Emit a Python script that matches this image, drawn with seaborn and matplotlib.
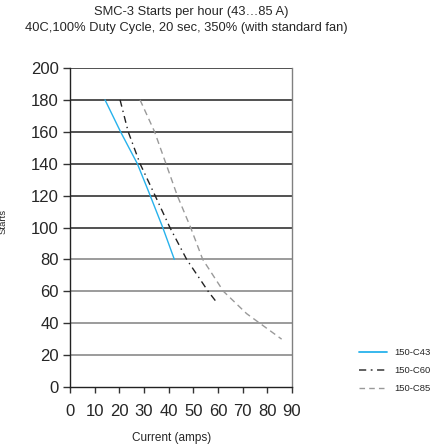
import matplotlib
matplotlib.use("Agg")
import matplotlib.pyplot as plt
import seaborn as sns
import pandas as pd
from matplotlib.lines import Line2D

# ---- data ----
c43_current = [14.2, 20.5, 27.3, 32.0, 37.6, 42.3]
c43_starts = [180, 160, 140, 122, 100, 80]

c60_current = [20.3, 23.6, 28.4, 34.5, 40.5, 47.3, 56.0, 59.5]
c60_starts = [180, 160, 140, 120, 100, 80, 60, 53]

c85_current = [28.4, 34.3, 38.9, 43.5, 48.9, 53.8, 62.2, 71.6, 85.8]
c85_starts = [180, 160, 140, 120, 100, 80, 60, 46, 30]

series_names = ["150-C43", "150-C60", "150-C85"]
x_ticks = [0, 10, 20, 30, 40, 50, 60, 70, 80, 90]
y_ticks = [0, 20, 40, 60, 80, 100, 120, 140, 160, 180, 200]

title_line1 = "SMC-3 Starts per hour (43\u202685 A)"
title_line2 = "40C,100% Duty Cycle, 20 sec, 350% (with standard fan)"

df = pd.concat([
    pd.DataFrame({"Current": c43_current, "Starts": c43_starts, "Model": series_names[0]}),
    pd.DataFrame({"Current": c60_current, "Starts": c60_starts, "Model": series_names[1]}),
    pd.DataFrame({"Current": c85_current, "Starts": c85_starts, "Model": series_names[2]}),
], ignore_index=True)

sns.set_theme(style="white")
plt.rcParams["font.family"] = ["Liberation Sans", "DejaVu Sans"]

fig = plt.figure(figsize=(4.41, 4.45), dpi=100)
ax = fig.add_axes([70 / 441, 1 - 387 / 445, 222 / 441, 319 / 445])

palette = {series_names[0]: "#27b2ec", series_names[1]: "#222222", series_names[2]: "#9a9a9a"}
dashes = {series_names[0]: "", series_names[1]: (5, 3, 1, 3), series_names[2]: (4.5, 3)}

sns.lineplot(data=df, x="Current", y="Starts", hue="Model", style="Model",
             palette=palette, dashes=dashes, sort=False, estimator=None,
             linewidth=1.0, ax=ax, legend=False, zorder=3)

ax.set_xlim(0, 90)
ax.set_ylim(0, 200)
ax.set_xticks(x_ticks)
ax.set_yticks(y_ticks)
ax.tick_params(axis="x", direction="out", length=4, width=1, color="#333333",
               labelsize=12, pad=8, bottom=True)
ax.tick_params(axis="y", direction="out", length=5, width=1, color="#333333",
               labelsize=12, pad=3, left=True)

# horizontal grid: dark for upper, grey for lower values
ax.grid(False)
for v in y_ticks[1:]:
    col = "#222222" if v >= 100 else "#808080"
    ax.axhline(v, color=col, linewidth=1.1, zorder=1)

for s in ["left", "bottom"]:
    ax.spines[s].set_color("#222222")
    ax.spines[s].set_linewidth(1.0)
ax.spines["top"].set_visible(False)
ax.spines["right"].set_color("#808080")
ax.spines["right"].set_linewidth(1.0)

ax.set_xlabel("Current (amps)", fontsize=8.5)
ax.xaxis.set_label_coords(0.46, -0.14)
ax.set_ylabel("Starts", fontsize=6.8)
ax.yaxis.set_label_coords(-0.279, 0.52)

fig.text(191 / 441, 1 - 12 / 445, title_line1, ha="center", va="center", fontsize=9.3)
fig.text(186 / 441, 1 - 28 / 445, title_line2, ha="center", va="center", fontsize=9.3)

# legend
handles = [
    Line2D([], [], color=palette[series_names[0]], linewidth=1.3),
    Line2D([], [], color="#555555", linewidth=1.3, dashes=(4, 2.5, 1, 2.5)),
    Line2D([], [], color="#999999", linewidth=1.0, dashes=(4, 3)),
]
fig.legend(handles, series_names, loc="upper left",
           bbox_to_anchor=(359 / 441, 1 - 348 / 445), frameon=False,
           fontsize=6.8, handlelength=3.0, handletextpad=0.7, labelspacing=0.95,
           borderaxespad=0, borderpad=0)

fig.savefig("out.png", dpi=100)
